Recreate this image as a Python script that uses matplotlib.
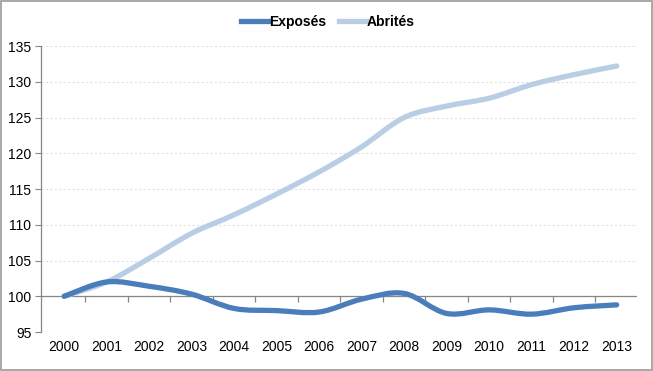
import matplotlib
matplotlib.use("Agg")
import matplotlib.pyplot as plt
from matplotlib.path import Path
from matplotlib.patches import PathPatch, Rectangle
from matplotlib.lines import Line2D

plt.rcParams['font.family'] = ['Liberation Sans', 'DejaVu Sans']

# data
years = [2000, 2001, 2002, 2003, 2004, 2005, 2006, 2007, 2008, 2009, 2010, 2011, 2012, 2013]
exposes = [100, 102.0, 101.4, 100.3, 98.3, 98.0, 97.8, 99.6, 100.4, 97.6, 98.1, 97.5, 98.4, 98.8]
abrites = [100, 102.0, 105.3, 108.8, 111.4, 114.3, 117.4, 120.9, 125.0, 126.6, 127.7, 129.6, 131.0, 132.2]
yticks = [95, 100, 105, 110, 115, 120, 125, 130, 135]

c_exp = '#4A7EBB'
c_abr = '#B9CDE5'


def smooth_path(x, y, t=1/6):
    # Excel-like smoothed line: cubic bezier with neighbour-based control points
    verts = [(x[0], y[0])]
    codes = [Path.MOVETO]
    n = len(x)
    for i in range(n - 1):
        x0, y0 = (x[i - 1], y[i - 1]) if i > 0 else (x[i], y[i])
        x3, y3 = (x[i + 2], y[i + 2]) if i + 2 < n else (x[i + 1], y[i + 1])
        c1 = (x[i] + (x[i + 1] - x0) * t, y[i] + (y[i + 1] - y0) * t)
        c2 = (x[i + 1] - (x3 - x[i]) * t, y[i + 1] - (y3 - y[i]) * t)
        verts += [c1, c2, (x[i + 1], y[i + 1])]
        codes += [Path.CURVE4] * 3
    return Path(verts, codes)


fig = plt.figure(figsize=(6.53, 3.71), dpi=100)
fig.patches.append(Rectangle((0.002, 0.003), 0.996, 0.994, transform=fig.transFigure,
                             fill=False, edgecolor='#9a9a9a', linewidth=1.2))
ax = fig.add_axes([0.063, 0.105, 0.912, 0.771])

for v in yticks:
    if v != 100:
        ax.axhline(v, color='#e0e0e0', linewidth=0.8, linestyle=(0, (2, 2)), zorder=0)
ax.axhline(100, color='#868686', linewidth=0.9, zorder=1)
ax.vlines([y + 0.5 for y in years], 100, 99.15, color='#868686', linewidth=0.9, zorder=1)

ax.add_patch(PathPatch(smooth_path(years, abrites), fill=False, edgecolor=c_abr,
                       linewidth=3.8, capstyle='round', zorder=3))
ax.add_patch(PathPatch(smooth_path(years, exposes), fill=False, edgecolor=c_exp,
                       linewidth=3.8, capstyle='round', zorder=4))

ax.set_xlim(1999.46, 2013.47)
ax.set_ylim(95, 135)
ax.set_yticks(yticks)
ax.set_xticks(years)
ax.set_xticklabels([str(y) for y in years])
ax.tick_params(axis='x', length=0, pad=6, labelsize=10)
ax.tick_params(axis='y', length=4, color='#868686', labelsize=10, pad=3)
for s in ['top', 'right', 'bottom']:
    ax.spines[s].set_visible(False)
ax.spines['left'].set_color('#868686')
ax.spines['left'].set_linewidth(0.9)

handles = [Line2D([], [], color=c_exp, linewidth=3.8),
           Line2D([], [], color=c_abr, linewidth=3.8)]
fig.legend(handles, ['Exposés', 'Abrités'], loc='center', bbox_to_anchor=(0.502, 0.94),
           ncol=2, frameon=False, handlelength=2.0, handletextpad=0.05, columnspacing=0.9,
           prop={'weight': 'bold', 'size': 10})

fig.savefig('out.png', dpi=100, facecolor='white')
